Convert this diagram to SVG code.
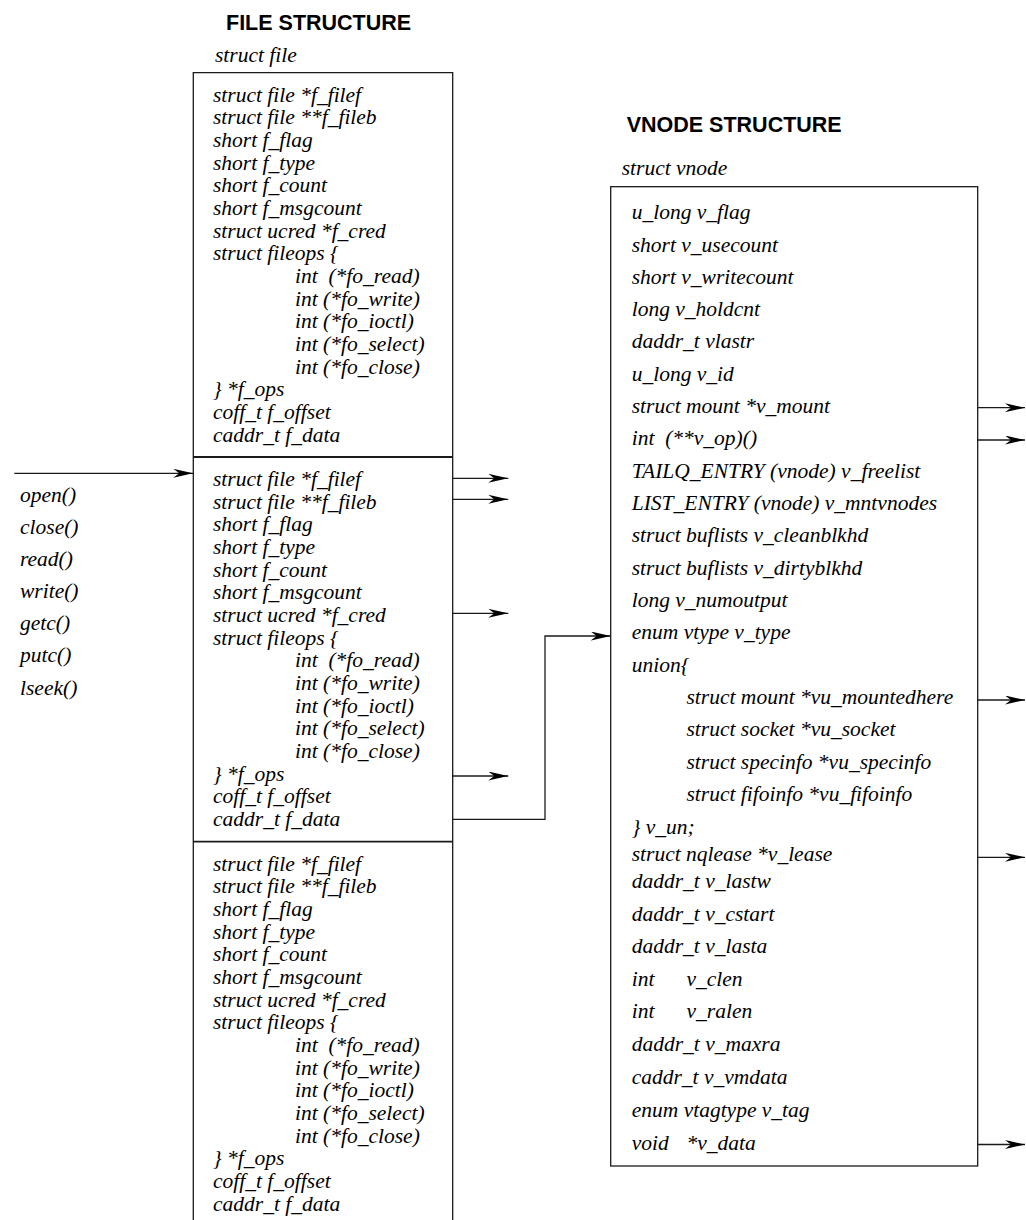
<svg xmlns="http://www.w3.org/2000/svg" width="1026" height="1220" viewBox="0 0 1026 1220">
  <style>
    .t { font-family: "Liberation Serif", "Times New Roman", serif; font-style: italic; font-size: 21.5px; fill: #000; white-space: pre; }
    .h { font-family: "Liberation Sans", Arial, sans-serif; font-weight: bold; font-size: 21.5px; fill: #000; }
    .frame { fill: none; stroke: #1a1a1a; stroke-width: 1.3; }
    .div { fill: none; stroke: #1a1a1a; stroke-width: 1.8; }
    .wire { fill: none; stroke: #1a1a1a; stroke-width: 1.3; marker-end: url(#head); }
  </style>
  <defs>
    <marker id="head" viewBox="0 0 20 9" refX="20" refY="4.5" markerWidth="20" markerHeight="9" markerUnits="userSpaceOnUse" orient="auto">
      <path d="M0,0 L20,4.5 L0,9 L6,4.5 Z" fill="#000"/>
    </marker>
  </defs>
  <rect width="1026" height="1220" fill="#fff"/>

  <!-- struct file table -->
  <g id="file-structure">
    <text class="h" x="226" y="29.5">FILE STRUCTURE</text>
    <text class="t" x="215" y="61.7">struct file</text>
    <path class="frame" d="M193.3,1222 V72.7 H452.7 V1222"/>

    <g id="file-entry-1">
      <text class="t" x="213" y="101.7">struct file *f_filef</text>
      <text class="t" x="213" y="124.4">struct file **f_fileb</text>
      <text class="t" x="213" y="147">short f_flag</text>
      <text class="t" x="213" y="169.7">short f_type</text>
      <text class="t" x="213" y="192.4">short f_count</text>
      <text class="t" x="213" y="215">short f_msgcount</text>
      <text class="t" x="213" y="237.7">struct ucred *f_cred</text>
      <text class="t" x="213" y="260.4">struct fileops {</text>
      <text class="t" x="295" y="283">int  (*fo_read)</text>
      <text class="t" x="295" y="305.7">int (*fo_write)</text>
      <text class="t" x="295" y="328.4">int (*fo_ioctl)</text>
      <text class="t" x="295" y="351">int (*fo_select)</text>
      <text class="t" x="295" y="373.7">int (*fo_close)</text>
      <text class="t" x="213" y="396.4">} *f_ops</text>
      <text class="t" x="213" y="419">coff_t f_offset</text>
      <text class="t" x="213" y="441.7">caddr_t f_data</text>
    </g>

    <g id="file-entry-2">
      <line class="div" x1="193.3" y1="457" x2="452.7" y2="457"/>
      <text class="t" x="213" y="486">struct file *f_filef</text>
      <text class="t" x="213" y="508.7">struct file **f_fileb</text>
      <text class="t" x="213" y="531.3">short f_flag</text>
      <text class="t" x="213" y="554">short f_type</text>
      <text class="t" x="213" y="576.7">short f_count</text>
      <text class="t" x="213" y="599.3">short f_msgcount</text>
      <text class="t" x="213" y="622">struct ucred *f_cred</text>
      <text class="t" x="213" y="644.7">struct fileops {</text>
      <text class="t" x="295" y="667.3">int  (*fo_read)</text>
      <text class="t" x="295" y="690">int (*fo_write)</text>
      <text class="t" x="295" y="712.7">int (*fo_ioctl)</text>
      <text class="t" x="295" y="735.3">int (*fo_select)</text>
      <text class="t" x="295" y="758">int (*fo_close)</text>
      <text class="t" x="213" y="780.7">} *f_ops</text>
      <text class="t" x="213" y="803.3">coff_t f_offset</text>
      <text class="t" x="213" y="826">caddr_t f_data</text>
    </g>

    <g id="file-entry-3">
      <line class="div" x1="193.3" y1="841.7" x2="452.7" y2="841.7"/>
      <text class="t" x="213" y="870.7">struct file *f_filef</text>
      <text class="t" x="213" y="893.4">struct file **f_fileb</text>
      <text class="t" x="213" y="916">short f_flag</text>
      <text class="t" x="213" y="938.7">short f_type</text>
      <text class="t" x="213" y="961.4">short f_count</text>
      <text class="t" x="213" y="984">short f_msgcount</text>
      <text class="t" x="213" y="1006.7">struct ucred *f_cred</text>
      <text class="t" x="213" y="1029.4">struct fileops {</text>
      <text class="t" x="295" y="1052">int  (*fo_read)</text>
      <text class="t" x="295" y="1074.7">int (*fo_write)</text>
      <text class="t" x="295" y="1097.4">int (*fo_ioctl)</text>
      <text class="t" x="295" y="1120">int (*fo_select)</text>
      <text class="t" x="295" y="1142.7">int (*fo_close)</text>
      <text class="t" x="213" y="1165.4">} *f_ops</text>
      <text class="t" x="213" y="1188">coff_t f_offset</text>
      <text class="t" x="213" y="1210.7">caddr_t f_data</text>
    </g>
  </g>

  <!-- system calls acting on an open file -->
  <g id="syscalls">
    <text class="t" x="20" y="501.7">open()</text>
    <text class="t" x="20" y="533.5">close()</text>
    <text class="t" x="20" y="565.7">read()</text>
    <text class="t" x="20" y="597.7">write()</text>
    <text class="t" x="20" y="630">getc()</text>
    <text class="t" x="20" y="661.7">putc()</text>
    <text class="t" x="20" y="694.5">lseek()</text>
  </g>

  <!-- struct vnode -->
  <g id="vnode-structure">
    <text class="h" x="626.7" y="131.7">VNODE STRUCTURE</text>
    <text class="t" x="621.7" y="175">struct vnode</text>
    <rect class="frame" x="610.7" y="186.7" width="367" height="979.3"/>
    <text class="t" x="631.7" y="219.3">u_long v_flag</text>
    <text class="t" x="631.7" y="251.5">short v_usecount</text>
    <text class="t" x="631.7" y="283.7">short v_writecount</text>
    <text class="t" x="631.7" y="316">long v_holdcnt</text>
    <text class="t" x="631.7" y="348.3">daddr_t vlastr</text>
    <text class="t" x="631.7" y="380.6">u_long v_id</text>
    <text class="t" x="631.7" y="413">struct mount *v_mount</text>
    <text class="t" x="631.7" y="445.2">int  (**v_op)()</text>
    <text class="t" x="631.7" y="477.5">TAILQ_ENTRY (vnode) v_freelist</text>
    <text class="t" x="631.7" y="509.8">LIST_ENTRY (vnode) v_mntvnodes</text>
    <text class="t" x="631.7" y="542.2">struct buflists v_cleanblkhd</text>
    <text class="t" x="631.7" y="574.5">struct buflists v_dirtyblkhd</text>
    <text class="t" x="631.7" y="606.8">long v_numoutput</text>
    <text class="t" x="631.7" y="639.2">enum vtype v_type</text>
    <text class="t" x="631.7" y="671.5">union{</text>
    <text class="t" x="686.5" y="704">struct mount *vu_mountedhere</text>
    <text class="t" x="686.5" y="736.3">struct socket *vu_socket</text>
    <text class="t" x="686.5" y="768.7">struct specinfo *vu_specinfo</text>
    <text class="t" x="686.5" y="801">struct fifoinfo *vu_fifoinfo</text>
    <text class="t" x="631.7" y="833.5">} v_un;</text>
    <text class="t" x="631.7" y="861">struct nqlease *v_lease</text>
    <text class="t" x="631.7" y="887.5">daddr_t v_lastw</text>
    <text class="t" x="631.7" y="921">daddr_t v_cstart</text>
    <text class="t" x="631.7" y="953.3">daddr_t v_lasta</text>
    <text class="t" x="631.7" y="985.7">int<tspan x="686.5">v_clen</tspan></text>
    <text class="t" x="631.7" y="1018">int<tspan x="686.5">v_ralen</tspan></text>
    <text class="t" x="631.7" y="1050.7">daddr_t v_maxra</text>
    <text class="t" x="631.7" y="1083.5">caddr_t v_vmdata</text>
    <text class="t" x="631.7" y="1116.5">enum vtagtype v_tag</text>
    <text class="t" x="631.7" y="1149.5">void<tspan x="686.5">*v_data</tspan></text>
  </g>

  <!-- pointers -->
  <g id="connectors">
    <line class="wire" x1="14.3" y1="473.3" x2="193.3" y2="473.3"/>
    <line class="wire" x1="452.7" y1="478.3" x2="508.3" y2="478.3"/>
    <line class="wire" x1="452.7" y1="499.3" x2="508.3" y2="499.3"/>
    <line class="wire" x1="452.7" y1="613.3" x2="508.3" y2="613.3"/>
    <line class="wire" x1="452.7" y1="776" x2="508.3" y2="776"/>
    <polyline class="wire" points="452.7,819.3 545,819.3 545,636 610.7,636"/>
    <line class="wire" x1="977.7" y1="407.7" x2="1025" y2="407.7"/>
    <line class="wire" x1="977.7" y1="440" x2="1025" y2="440"/>
    <line class="wire" x1="977.7" y1="700" x2="1025" y2="700"/>
    <line class="wire" x1="977.7" y1="857.3" x2="1025" y2="857.3"/>
    <line class="wire" x1="977.7" y1="1144.5" x2="1025" y2="1144.5"/>
  </g>
</svg>
